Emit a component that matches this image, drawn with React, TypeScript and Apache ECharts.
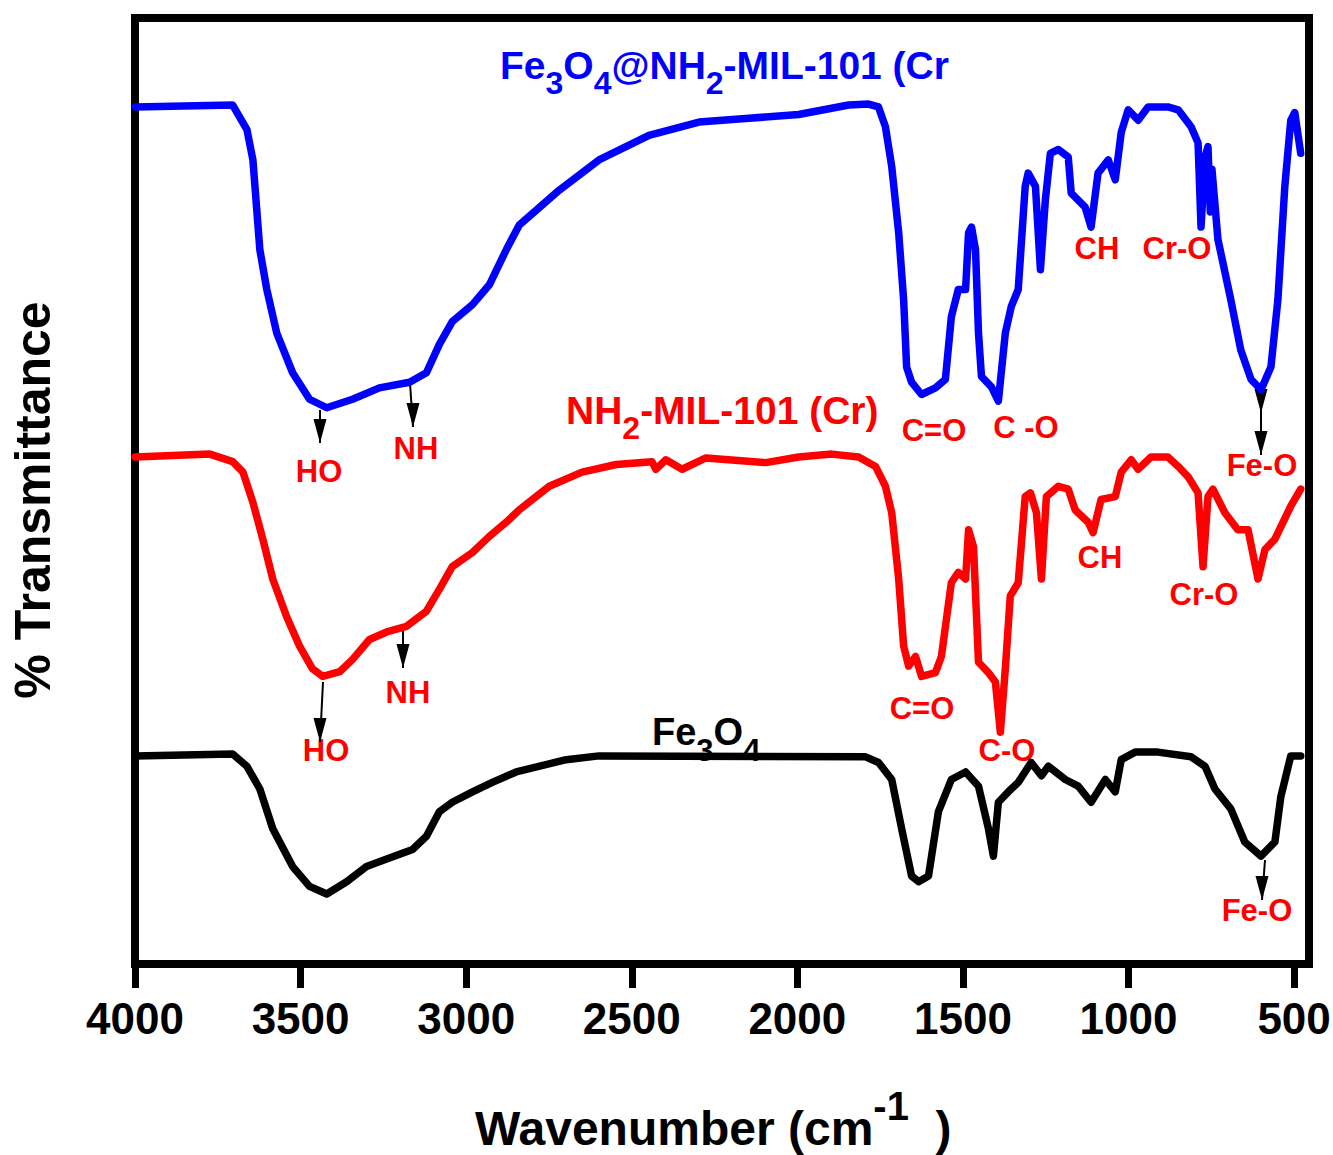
import React, { useEffect, useRef } from "react";
import * as echarts from "echarts";

// FTIR spectra: [wavenumber (cm-1), transmittance (offset, arbitrary %)]
const compositeSpectrum: [number, number][] = [
  [4000, 90.6], [3705, 90.8], [3662, 88.2], [3644, 85.0], [3623, 75.5], [3602, 71.3],
  [3572, 66.7], [3524, 62.5], [3473, 59.7], [3421, 58.8], [3343, 59.7], [3262, 60.9],
  [3171, 61.5], [3120, 62.5], [3081, 65.5], [3042, 67.9], [2981, 69.7], [2930, 71.8],
  [2879, 75.5], [2840, 78.1], [2719, 81.8], [2599, 85.0], [2448, 87.6], [2297, 89.0],
  [2146, 89.4], [1996, 89.8], [1845, 90.8], [1785, 90.9], [1755, 90.6], [1734, 88.5],
  [1715, 84.3], [1694, 77.3], [1679, 70.2], [1670, 63.1], [1655, 61.5], [1625, 60.2],
  [1583, 60.9], [1553, 61.8], [1535, 68.4], [1514, 71.3], [1492, 71.3], [1483, 77.3],
  [1474, 77.9], [1462, 75.5], [1453, 66.7], [1444, 62.1], [1414, 61.0], [1393, 59.5],
  [1372, 66.7], [1354, 69.5], [1333, 71.3], [1312, 82.2], [1303, 83.6], [1281, 82.2],
  [1266, 73.4], [1251, 80.8], [1236, 85.7], [1212, 86.1], [1182, 85.3], [1173, 81.5],
  [1131, 80.0], [1113, 77.9], [1092, 83.6], [1061, 85.0], [1040, 82.9], [1022, 87.9],
  [1001, 90.3], [971, 89.2], [941, 90.6], [881, 90.6], [850, 90.3], [811, 88.5],
  [790, 86.8], [781, 77.9], [769, 85.3], [760, 86.4], [753, 79.5], [748, 84.0],
  [730, 76.6], [691, 70.2], [661, 64.9], [630, 61.8], [600, 60.7], [570, 63.1],
  [549, 70.2], [528, 82.2], [510, 89.2], [498, 90.0], [480, 85.7],
];

const mofSpectrum: [number, number][] = [
  [4000, 53.6], [3774, 53.9], [3705, 53.1], [3674, 52.0], [3644, 48.8], [3614, 44.9],
  [3584, 40.7], [3542, 36.7], [3503, 33.6], [3464, 31.2], [3433, 30.4], [3382, 30.9],
  [3343, 32.2], [3292, 34.3], [3240, 35.1], [3180, 35.7], [3120, 37.3], [3081, 39.6],
  [3042, 42.0], [2981, 43.5], [2930, 45.2], [2879, 46.7], [2840, 48.0], [2749, 50.5],
  [2650, 52.0], [2547, 52.8], [2439, 53.1], [2427, 52.3], [2397, 53.3], [2348, 52.3],
  [2276, 53.5], [2095, 53.0], [1996, 53.6], [1896, 53.9], [1815, 53.6], [1764, 52.6],
  [1734, 50.5], [1715, 47.7], [1694, 40.7], [1679, 33.6], [1664, 31.5], [1643, 32.5],
  [1625, 30.4], [1583, 30.8], [1565, 32.5], [1535, 40.3], [1514, 41.4], [1492, 40.7],
  [1483, 45.9], [1468, 44.1], [1453, 31.9], [1423, 30.8], [1402, 29.8], [1387, 24.5],
  [1372, 31.2], [1357, 38.9], [1333, 40.3], [1312, 49.4], [1296, 49.8], [1278, 47.7],
  [1263, 40.7], [1248, 49.4], [1212, 50.5], [1182, 50.2], [1161, 48.0], [1122, 46.7],
  [1107, 45.6], [1083, 49.1], [1040, 49.4], [1022, 52.0], [992, 53.3], [971, 52.3],
  [932, 53.6], [881, 53.6], [850, 52.6], [820, 51.5], [790, 49.8], [775, 42.0],
  [760, 49.4], [745, 50.2], [709, 47.7], [670, 45.9], [639, 45.9], [609, 40.7],
  [588, 43.8], [558, 44.9], [510, 48.4], [480, 50.2],
];

const magnetiteSpectrum: [number, number][] = [
  [4000, 22.0], [3705, 22.2], [3662, 20.9], [3623, 18.5], [3584, 14.3], [3524, 10.3],
  [3473, 8.2], [3421, 7.4], [3361, 8.7], [3301, 10.3], [3240, 11.1], [3162, 12.1],
  [3120, 13.5], [3081, 16.1], [3042, 17.1], [2981, 18.2], [2921, 19.2], [2849, 20.3],
  [2698, 21.6], [2599, 22.0], [1794, 21.9], [1755, 21.3], [1715, 19.5], [1685, 14.3],
  [1655, 9.3], [1634, 8.7], [1604, 9.3], [1574, 16.1], [1535, 19.5], [1492, 20.3],
  [1453, 18.8], [1423, 14.3], [1408, 11.4], [1393, 17.1], [1363, 18.2], [1333, 19.2],
  [1294, 21.3], [1263, 19.9], [1242, 20.9], [1191, 19.5], [1152, 18.8], [1113, 17.1],
  [1070, 19.5], [1040, 18.2], [1022, 21.6], [980, 22.4], [911, 22.4], [811, 21.9],
  [769, 20.9], [739, 18.5], [691, 16.4], [649, 12.9], [600, 11.4], [558, 12.9],
  [540, 17.7], [510, 22.0], [480, 22.0],
];

const wavenumberTicks = [4000, 3500, 3000, 2500, 2000, 1500, 1000, 500];

const FONT = '"Liberation Sans", Arial, Helvetica, sans-serif';
const RED = "#ff0000";
const BLUE = "#0000ff";

// band assignments written next to the spectra
const bandLabels: { text: string; x: number; y: number }[] = [
  { text: "HO", x: 319, y: 471 },
  { text: "NH", x: 416, y: 448 },
  { text: "C=O", x: 934, y: 430 },
  { text: "C -O", x: 1026, y: 427 },
  { text: "CH", x: 1097, y: 248 },
  { text: "Cr-O", x: 1177, y: 248 },
  { text: "Fe-O", x: 1262, y: 465 },
  { text: "HO", x: 326, y: 750 },
  { text: "NH", x: 408, y: 692 },
  { text: "C=O", x: 922, y: 708 },
  { text: "C-O", x: 1007, y: 750 },
  { text: "CH", x: 1100, y: 557 },
  { text: "Cr-O", x: 1204, y: 594 },
  { text: "Fe-O", x: 1257, y: 910 },
];

// pointer arrows: start, tip, and optional extra head tips along the shaft
const pointers: { x1: number; y1: number; x2: number; y2: number; extra?: number[] }[] = [
  { x1: 320, y1: 410, x2: 320, y2: 443 },
  { x1: 410, y1: 383, x2: 413, y2: 427 },
  { x1: 1261, y1: 390, x2: 1261, y2: 455, extra: [413] },
  { x1: 323, y1: 682, x2: 320, y2: 742 },
  { x1: 403, y1: 628, x2: 403, y2: 668 },
  { x1: 1265, y1: 860, x2: 1262, y2: 900 },
];

function head(x: number, y: number) {
  return {
    type: "polygon",
    shape: { points: [[x - 6.5, y - 24], [x + 6.5, y - 24], [x, y]] },
    style: { fill: "#000" },
    silent: true,
  };
}

// main text plus lowered subscript digits
const subRich = (size: number, color: string) => ({
  m: { fontSize: size, fontWeight: "bold", fontFamily: FONT, fill: color, verticalAlign: "middle" },
  s: {
    fontSize: Math.round(size * 0.82),
    fontWeight: "bold",
    fontFamily: FONT,
    fill: color,
    verticalAlign: "middle",
    padding: [36, 0, 0, 0],
  },
});

export default function App() {
  const ref = useRef<HTMLDivElement>(null);

  useEffect(() => {
    document.body.style.margin = "0";
    const chart = echarts.init(ref.current!, null, { renderer: "svg" });

    const graphics: any[] = [];
    bandLabels.forEach((b) => {
      graphics.push({
        type: "text",
        x: b.x,
        y: b.y,
        style: {
          text: b.text,
          fill: RED,
          fontSize: 31,
          fontWeight: "bold",
          fontFamily: FONT,
          align: "center",
          verticalAlign: "middle",
        },
        silent: true,
      });
    });
    pointers.forEach((p) => {
      graphics.push({
        type: "line",
        shape: { x1: p.x1, y1: p.y1, x2: p.x2, y2: p.y2 },
        style: { stroke: "#000", lineWidth: 2 },
        silent: true,
      });
      graphics.push(head(p.x2, p.y2));
      (p.extra || []).forEach((t) => graphics.push(head(p.x1, t)));
    });

    // sample names
    graphics.push({
      type: "text",
      x: 500,
      y: 65,
      style: {
        text: "{m|Fe}{s|3}{m|O}{s|4}{m|@NH}{s|2}{m|-MIL-101 (Cr}",
        rich: subRich(39, BLUE),
        fill: BLUE,
        align: "left",
        verticalAlign: "middle",
      },
      silent: true,
    });
    graphics.push({
      type: "text",
      x: 566,
      y: 410,
      style: {
        text: "{m|NH}{s|2}{m|-MIL-101 (Cr)}",
        rich: subRich(39, RED),
        fill: RED,
        align: "left",
        verticalAlign: "middle",
      },
      silent: true,
    });
    graphics.push({
      type: "text",
      x: 652,
      y: 732,
      style: {
        text: "{m|Fe}{s|3}{m|O}{s|4}",
        rich: subRich(38, "#000"),
        fill: "#000",
        align: "left",
        verticalAlign: "middle",
      },
      silent: true,
    });

    // axis titles
    graphics.push({
      type: "text",
      x: 475,
      y: 1128,
      style: {
        text: "{m|Wavenumber (cm}{p|-1}{m|  )}",
        rich: {
          m: { fontSize: 48, fontWeight: "bold", fontFamily: FONT, fill: "#000", verticalAlign: "middle" },
          p: {
            fontSize: 40,
            fontWeight: "bold",
            fontFamily: FONT,
            fill: "#000",
            verticalAlign: "middle",
            padding: [0, 0, 44, 0],
          },
        },
        align: "left",
        verticalAlign: "middle",
      },
      silent: true,
    });
    graphics.push({
      type: "text",
      x: 33,
      y: 500,
      rotation: Math.PI / 2,
      style: {
        text: "% Transmittance",
        fill: "#000",
        fontSize: 50,
        fontWeight: "bold",
        fontFamily: FONT,
        align: "center",
        verticalAlign: "middle",
      },
      silent: true,
    });

    const lineSeries = (name: string, data: [number, number][], color: string) => ({
      name,
      type: "line",
      data,
      showSymbol: false,
      symbol: "none",
      smooth: false,
      lineStyle: { color, width: 7.5, cap: "round", join: "round" },
      silent: true,
    });

    chart.setOption({
      animation: false,
      backgroundColor: "#fff",
      grid: {
        show: true,
        left: 135,
        right: 24,
        top: 18,
        bottom: 191,
        containLabel: false,
        outerBoundsMode: "none",
        borderColor: "#000",
        borderWidth: 8,
        backgroundColor: "transparent",
      },
      xAxis: {
        type: "value",
        inverse: true,
        min: 455,
        max: 4000,
        axisLine: { show: false },
        splitLine: { show: false },
        axisTick: {
          show: true,
          length: 24,
          customValues: wavenumberTicks,
          lineStyle: { color: "#000", width: 7 },
        },
        axisLabel: {
          customValues: wavenumberTicks,
          formatter: (v: number) => String(v),
          color: "#000",
          fontSize: 44,
          fontWeight: "bold",
          fontFamily: FONT,
          margin: 32,
          hideOverlap: false,
        },
      },
      yAxis: {
        type: "value",
        min: 0,
        max: 100,
        axisLine: { show: false },
        axisTick: { show: false },
        axisLabel: { show: false },
        splitLine: { show: false },
      },
      series: [
        lineSeries("Fe3O4", magnetiteSpectrum, "#000"),
        lineSeries("NH2-MIL-101 (Cr)", mofSpectrum, RED),
        lineSeries("Fe3O4@NH2-MIL-101 (Cr)", compositeSpectrum, BLUE),
      ],
      graphic: graphics,
    });

    return () => chart.dispose();
  }, []);

  return <div ref={ref} style={{ width: 1333, height: 1155 }} />;
}
